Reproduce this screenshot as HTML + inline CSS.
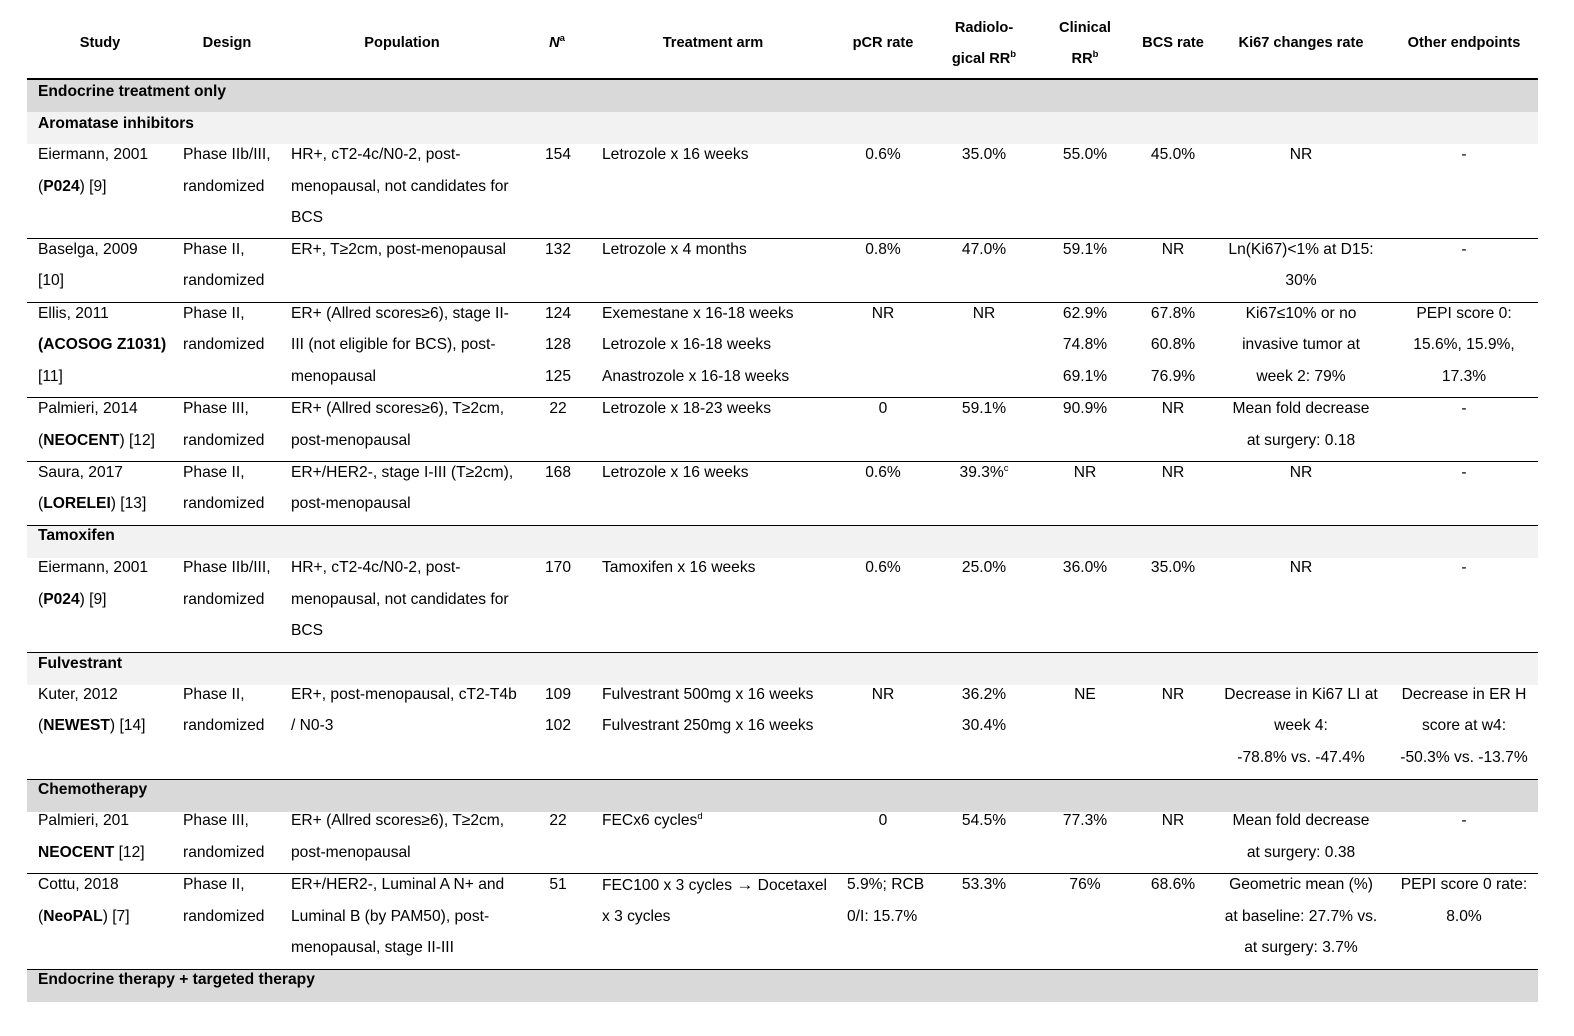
<!DOCTYPE html>
<html><head><meta charset="utf-8">
<style>
body{margin:0;width:1574px;height:1036px;background:#fff;position:relative;overflow:hidden;font-family:"Liberation Sans",Arial,sans-serif;font-size:15.6px;color:#000}
.t{position:absolute;white-space:nowrap;line-height:20px}
.c{position:absolute;white-space:nowrap;line-height:20px;width:240px;text-align:center}
.b{font-weight:bold}
.h{font-size:14.6px}
.band{position:absolute;left:27px;width:1511px;height:32px}
.d{background:#d9d9d9}.l{background:#f2f2f2}
.r{position:absolute;left:27px;width:1511px;height:1px;background:#000}
sup{font-size:9.5px;line-height:0}
</style></head><body>
<div class="band d" style="top:80px"></div>
<div class="band l" style="top:112px"></div>
<div class="band l" style="top:526px"></div>
<div class="band l" style="top:653px"></div>
<div class="band d" style="top:780px"></div>
<div class="band d" style="top:970px"></div>
<div class="r" style="top:78px;height:2px"></div>
<div class="r" style="top:238px"></div>
<div class="r" style="top:302px"></div>
<div class="r" style="top:397px"></div>
<div class="r" style="top:461px"></div>
<div class="r" style="top:525px"></div>
<div class="r" style="top:652px"></div>
<div class="r" style="top:779px"></div>
<div class="r" style="top:873px"></div>
<div class="r" style="top:969px"></div>

<!-- header -->
<div class="c b h" style="left:-20px;top:33px">Study</div>
<div class="c b h" style="left:107px;top:33px">Design</div>
<div class="c b h" style="left:282px;top:33px">Population</div>
<div class="c b h" style="left:437px;top:33px"><i>N</i><sup>a</sup></div>
<div class="c b h" style="left:593px;top:33px">Treatment arm</div>
<div class="c b h" style="left:763px;top:33px">pCR rate</div>
<div class="c b h" style="left:864px;top:18px">Radiolo-</div>
<div class="c b h" style="left:864px;top:49px">gical RR<sup>b</sup></div>
<div class="c b h" style="left:965px;top:18px">Clinical</div>
<div class="c b h" style="left:965px;top:49px">RR<sup>b</sup></div>
<div class="c b h" style="left:1053px;top:33px">BCS rate</div>
<div class="c b h" style="left:1181px;top:33px">Ki67 changes rate</div>
<div class="c b h" style="left:1344px;top:33px">Other endpoints</div>

<div class="t b" style="left:38px;top:82px">Endocrine treatment only</div>
<div class="t b" style="left:38px;top:114px">Aromatase inhibitors</div>

<div class="t" style="left:38px;top:145px">Eiermann, 2001</div>
<div class="t" style="left:38px;top:177px">(<b>P024</b>) [9]</div>
<div class="t" style="left:183px;top:145px">Phase IIb/III,</div>
<div class="t" style="left:183px;top:177px">randomized</div>
<div class="t" style="left:291px;top:145px">HR+, cT2-4c/N0-2, post-</div>
<div class="t" style="left:291px;top:177px">menopausal, not candidates for</div>
<div class="t" style="left:291px;top:208px">BCS</div>
<div class="c" style="left:438px;top:145px">154</div>
<div class="t" style="left:602px;top:145px">Letrozole x 16 weeks</div>
<div class="c" style="left:763px;top:145px">0.6%</div>
<div class="c" style="left:864px;top:145px">35.0%</div>
<div class="c" style="left:965px;top:145px">55.0%</div>
<div class="c" style="left:1053px;top:145px">45.0%</div>
<div class="c" style="left:1181px;top:145px">NR</div>
<div class="c" style="left:1344px;top:145px">-</div>

<div class="t" style="left:38px;top:240px">Baselga, 2009</div>
<div class="t" style="left:38px;top:271px">[10]</div>
<div class="t" style="left:183px;top:240px">Phase II,</div>
<div class="t" style="left:183px;top:271px">randomized</div>
<div class="t" style="left:291px;top:240px">ER+, T≥2cm, post-menopausal</div>
<div class="c" style="left:438px;top:240px">132</div>
<div class="t" style="left:602px;top:240px">Letrozole x 4 months</div>
<div class="c" style="left:763px;top:240px">0.8%</div>
<div class="c" style="left:864px;top:240px">47.0%</div>
<div class="c" style="left:965px;top:240px">59.1%</div>
<div class="c" style="left:1053px;top:240px">NR</div>
<div class="c" style="left:1181px;top:240px">Ln(Ki67)&lt;1% at D15:</div>
<div class="c" style="left:1181px;top:271px">30%</div>
<div class="c" style="left:1344px;top:240px">-</div>

<div class="t" style="left:38px;top:304px">Ellis, 2011</div>
<div class="t b" style="left:38px;top:335px">(ACOSOG Z1031)</div>
<div class="t" style="left:38px;top:367px">[11]</div>
<div class="t" style="left:183px;top:304px">Phase II,</div>
<div class="t" style="left:183px;top:335px">randomized</div>
<div class="t" style="left:291px;top:304px">ER+ (Allred scores≥6), stage II-</div>
<div class="t" style="left:291px;top:335px">III (not eligible for BCS), post-</div>
<div class="t" style="left:291px;top:367px">menopausal</div>
<div class="c" style="left:438px;top:304px">124</div>
<div class="c" style="left:438px;top:335px">128</div>
<div class="c" style="left:438px;top:367px">125</div>
<div class="t" style="left:602px;top:304px">Exemestane x 16-18 weeks</div>
<div class="t" style="left:602px;top:335px">Letrozole x 16-18 weeks</div>
<div class="t" style="left:602px;top:367px">Anastrozole x 16-18 weeks</div>
<div class="c" style="left:763px;top:304px">NR</div>
<div class="c" style="left:864px;top:304px">NR</div>
<div class="c" style="left:965px;top:304px">62.9%</div>
<div class="c" style="left:965px;top:335px">74.8%</div>
<div class="c" style="left:965px;top:367px">69.1%</div>
<div class="c" style="left:1053px;top:304px">67.8%</div>
<div class="c" style="left:1053px;top:335px">60.8%</div>
<div class="c" style="left:1053px;top:367px">76.9%</div>
<div class="c" style="left:1181px;top:304px">Ki67≤10% or no</div>
<div class="c" style="left:1181px;top:335px">invasive tumor at</div>
<div class="c" style="left:1181px;top:367px">week 2: 79%</div>
<div class="c" style="left:1344px;top:304px">PEPI score 0:</div>
<div class="c" style="left:1344px;top:335px">15.6%, 15.9%,</div>
<div class="c" style="left:1344px;top:367px">17.3%</div>

<div class="t" style="left:38px;top:399px">Palmieri, 2014</div>
<div class="t" style="left:38px;top:431px">(<b>NEOCENT</b>) [12]</div>
<div class="t" style="left:183px;top:399px">Phase III,</div>
<div class="t" style="left:183px;top:431px">randomized</div>
<div class="t" style="left:291px;top:399px">ER+ (Allred scores≥6), T≥2cm,</div>
<div class="t" style="left:291px;top:431px">post-menopausal</div>
<div class="c" style="left:438px;top:399px">22</div>
<div class="t" style="left:602px;top:399px">Letrozole x 18-23 weeks</div>
<div class="c" style="left:763px;top:399px">0</div>
<div class="c" style="left:864px;top:399px">59.1%</div>
<div class="c" style="left:965px;top:399px">90.9%</div>
<div class="c" style="left:1053px;top:399px">NR</div>
<div class="c" style="left:1181px;top:399px">Mean fold decrease</div>
<div class="c" style="left:1181px;top:431px">at surgery: 0.18</div>
<div class="c" style="left:1344px;top:399px">-</div>

<div class="t" style="left:38px;top:463px">Saura, 2017</div>
<div class="t" style="left:38px;top:494px">(<b>LORELEI</b>) [13]</div>
<div class="t" style="left:183px;top:463px">Phase II,</div>
<div class="t" style="left:183px;top:494px">randomized</div>
<div class="t" style="left:291px;top:463px">ER+/HER2-, stage I-III (T≥2cm),</div>
<div class="t" style="left:291px;top:494px">post-menopausal</div>
<div class="c" style="left:438px;top:463px">168</div>
<div class="t" style="left:602px;top:463px">Letrozole x 16 weeks</div>
<div class="c" style="left:763px;top:463px">0.6%</div>
<div class="c" style="left:864px;top:463px">39.3%<sup>c</sup></div>
<div class="c" style="left:965px;top:463px">NR</div>
<div class="c" style="left:1053px;top:463px">NR</div>
<div class="c" style="left:1181px;top:463px">NR</div>
<div class="c" style="left:1344px;top:463px">-</div>

<div class="t b" style="left:38px;top:526px">Tamoxifen</div>
<div class="t" style="left:38px;top:558px">Eiermann, 2001</div>
<div class="t" style="left:38px;top:590px">(<b>P024</b>) [9]</div>
<div class="t" style="left:183px;top:558px">Phase IIb/III,</div>
<div class="t" style="left:183px;top:590px">randomized</div>
<div class="t" style="left:291px;top:558px">HR+, cT2-4c/N0-2, post-</div>
<div class="t" style="left:291px;top:590px">menopausal, not candidates for</div>
<div class="t" style="left:291px;top:621px">BCS</div>
<div class="c" style="left:438px;top:558px">170</div>
<div class="t" style="left:602px;top:558px">Tamoxifen x 16 weeks</div>
<div class="c" style="left:763px;top:558px">0.6%</div>
<div class="c" style="left:864px;top:558px">25.0%</div>
<div class="c" style="left:965px;top:558px">36.0%</div>
<div class="c" style="left:1053px;top:558px">35.0%</div>
<div class="c" style="left:1181px;top:558px">NR</div>
<div class="c" style="left:1344px;top:558px">-</div>

<div class="t b" style="left:38px;top:654px">Fulvestrant</div>
<div class="t" style="left:38px;top:685px">Kuter, 2012</div>
<div class="t" style="left:38px;top:716px">(<b>NEWEST</b>) [14]</div>
<div class="t" style="left:183px;top:685px">Phase II,</div>
<div class="t" style="left:183px;top:716px">randomized</div>
<div class="t" style="left:291px;top:685px">ER+, post-menopausal, cT2-T4b</div>
<div class="t" style="left:291px;top:716px">/ N0-3</div>
<div class="c" style="left:438px;top:685px">109</div>
<div class="c" style="left:438px;top:716px">102</div>
<div class="t" style="left:602px;top:685px">Fulvestrant 500mg x 16 weeks</div>
<div class="t" style="left:602px;top:716px">Fulvestrant 250mg x 16 weeks</div>
<div class="c" style="left:763px;top:685px">NR</div>
<div class="c" style="left:864px;top:685px">36.2%</div>
<div class="c" style="left:864px;top:716px">30.4%</div>
<div class="c" style="left:965px;top:685px">NE</div>
<div class="c" style="left:1053px;top:685px">NR</div>
<div class="c" style="left:1181px;top:685px">Decrease in Ki67 LI at</div>
<div class="c" style="left:1181px;top:716px">week 4:</div>
<div class="c" style="left:1181px;top:748px">-78.8% vs. -47.4%</div>
<div class="c" style="left:1344px;top:685px">Decrease in ER H</div>
<div class="c" style="left:1344px;top:716px">score at w4:</div>
<div class="c" style="left:1344px;top:748px">-50.3% vs. -13.7%</div>

<div class="t b" style="left:38px;top:780px">Chemotherapy</div>
<div class="t" style="left:38px;top:811px">Palmieri, 201</div>
<div class="t b" style="left:38px;top:843px">NEOCENT <span style="font-weight:normal">[12]</span></div>
<div class="t" style="left:183px;top:811px">Phase III,</div>
<div class="t" style="left:183px;top:843px">randomized</div>
<div class="t" style="left:291px;top:811px">ER+ (Allred scores≥6), T≥2cm,</div>
<div class="t" style="left:291px;top:843px">post-menopausal</div>
<div class="c" style="left:438px;top:811px">22</div>
<div class="t" style="left:602px;top:811px">FECx6 cycles<sup>d</sup></div>
<div class="c" style="left:763px;top:811px">0</div>
<div class="c" style="left:864px;top:811px">54.5%</div>
<div class="c" style="left:965px;top:811px">77.3%</div>
<div class="c" style="left:1053px;top:811px">NR</div>
<div class="c" style="left:1181px;top:811px">Mean fold decrease</div>
<div class="c" style="left:1181px;top:843px">at surgery: 0.38</div>
<div class="c" style="left:1344px;top:811px">-</div>

<div class="t" style="left:38px;top:875px">Cottu, 2018</div>
<div class="t" style="left:38px;top:907px">(<b>NeoPAL</b>) [7]</div>
<div class="t" style="left:183px;top:875px">Phase II,</div>
<div class="t" style="left:183px;top:907px">randomized</div>
<div class="t" style="left:291px;top:875px">ER+/HER2-, Luminal A N+ and</div>
<div class="t" style="left:291px;top:907px">Luminal B (by PAM50), post-</div>
<div class="t" style="left:291px;top:938px">menopausal, stage II-III</div>
<div class="c" style="left:438px;top:875px">51</div>
<div class="t" style="left:602px;top:875px">FEC100 x 3 cycles <b style="font-size:17px">→</b> Docetaxel</div>
<div class="t" style="left:602px;top:907px">x 3 cycles</div>
<div class="t" style="left:847px;top:875px">5.9%; RCB</div>
<div class="t" style="left:847px;top:907px">0/I: 15.7%</div>
<div class="c" style="left:864px;top:875px">53.3%</div>
<div class="c" style="left:965px;top:875px">76%</div>
<div class="c" style="left:1053px;top:875px">68.6%</div>
<div class="c" style="left:1181px;top:875px">Geometric mean (%)</div>
<div class="c" style="left:1181px;top:907px">at baseline: 27.7% vs.</div>
<div class="c" style="left:1181px;top:938px">at surgery: 3.7%</div>
<div class="c" style="left:1344px;top:875px">PEPI score 0 rate:</div>
<div class="c" style="left:1344px;top:907px">8.0%</div>

<div class="t b" style="left:38px;top:970px">Endocrine therapy + targeted therapy</div>
</body></html>
